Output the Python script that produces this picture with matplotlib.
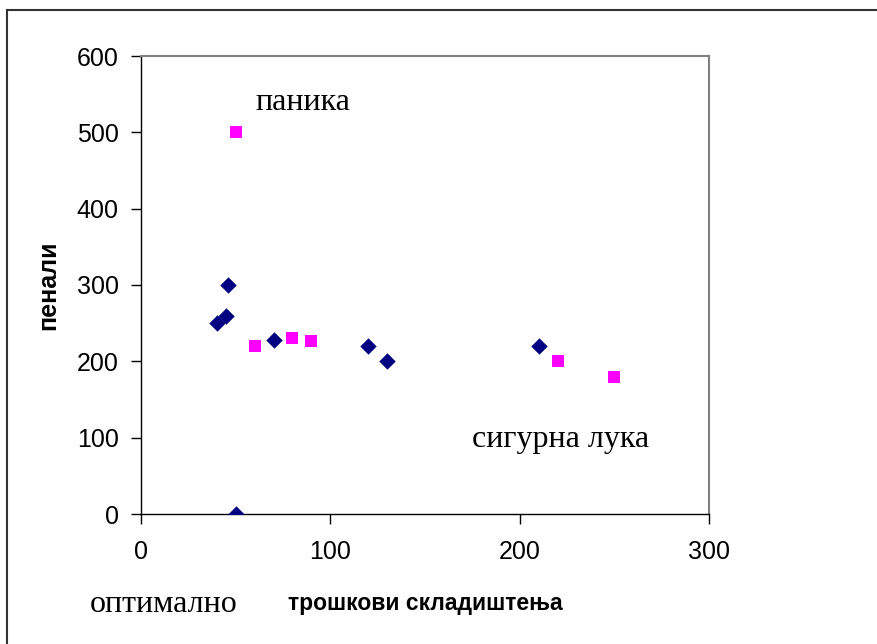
import matplotlib.pyplot as plt
from matplotlib.lines import Line2D

# storage costs vs penalties
diamond_x = [40, 45, 46, 50, 70, 120, 130, 210]
diamond_y = [250, 260, 300, 0, 228, 220, 200, 220]
square_x = [50, 60, 80, 90, 220, 250]
square_y = [500, 220, 230, 226, 200, 180]

x_ticks = [0, 100, 200, 300]
y_ticks = [0, 100, 200, 300, 400, 500, 600]

plt.rcParams['font.family'] = ['Liberation Sans', 'DejaVu Sans']

fig = plt.figure(figsize=(8.77, 6.44), dpi=100)
ax = fig.add_axes([141 / 877, 1 - 514 / 644, 568 / 877, 458 / 644])

ax.scatter(diamond_x, diamond_y, marker='D', s=70, color='#000080', zorder=3, linewidths=0)
ax.scatter(square_x, square_y, marker='s', s=85, color='#ff00ff', zorder=3, linewidths=0)

ax.set_xlim(0, 300)
ax.set_ylim(0, 600)
ax.set_xticks(x_ticks)
ax.set_yticks(y_ticks)
ax.tick_params(labelsize=18, length=7, width=1, colors='black')
ax.tick_params(axis='x', pad=12)
ax.tick_params(axis='y', pad=9)
for s in ['top', 'right']:
    ax.spines[s].set_color('#808080')
    ax.spines[s].set_linewidth(1.5)
for s in ['left', 'bottom']:
    ax.spines[s].set_linewidth(1)

ax.set_xlabel('трошкови складиштења', fontsize=16.5, fontweight='bold', labelpad=20)
ax.set_ylabel('пенали', fontsize=18, fontweight='bold', labelpad=12)

serif = 'Liberation Serif'
fig.text(303 / 877, 1 - 102 / 644, 'паника', fontsize=23, family=serif, ha='center', va='center')
fig.text(561 / 877, 1 - 440 / 644, 'сигурна лука', fontsize=23, family=serif, ha='center', va='center')
fig.text(164 / 877, 1 - 605 / 644, 'оптимално', fontsize=23, family=serif, ha='center', va='center')

# figure frame (left and top edges only visible)
fig.add_artist(Line2D([7 / 877, 7 / 877], [0, 1 - 10 / 644], color='#333333', lw=1.5))
fig.add_artist(Line2D([7 / 877, 1], [1 - 10 / 644, 1 - 10 / 644], color='#333333', lw=1.5))

fig.savefig('out.png', dpi=100)
